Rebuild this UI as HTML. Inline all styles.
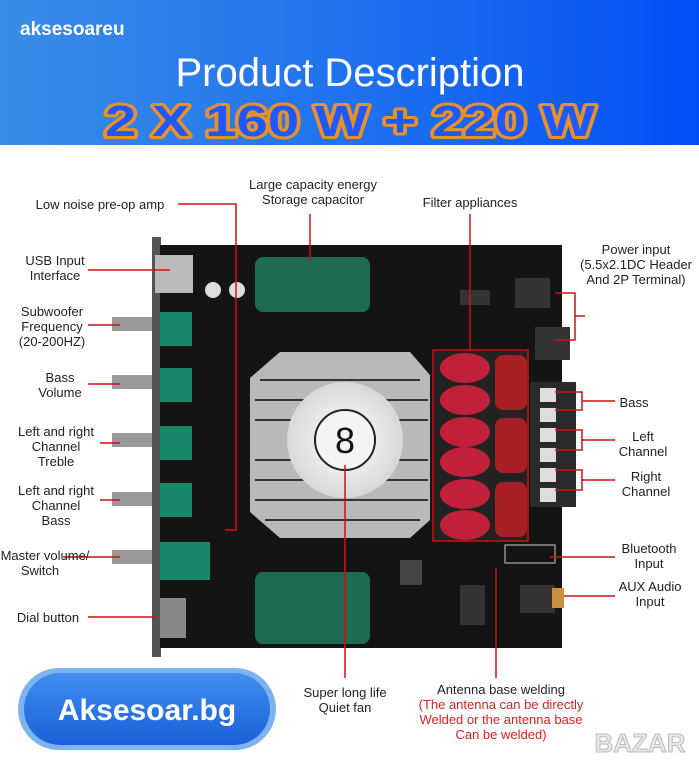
<!DOCTYPE html>
<html><head><meta charset="utf-8"><style>
body{margin:0;width:699px;height:768px;overflow:hidden;background:#fff;font-family:"Liberation Sans","DejaVu Sans",sans-serif}
</style></head><body>
<svg width="699" height="768" viewBox="0 0 699 768" xmlns="http://www.w3.org/2000/svg" font-family="Liberation Sans, DejaVu Sans, sans-serif">
<defs>
<linearGradient id="hd" x1="0" x2="1"><stop offset="0" stop-color="#3a8de6"/><stop offset="0.6" stop-color="#1a6cf0"/><stop offset="1" stop-color="#0050f5"/></linearGradient>
<linearGradient id="bd" x1="0" x2="0" y1="0" y2="1"><stop offset="0" stop-color="#3f8ff0"/><stop offset="1" stop-color="#1a5fd8"/></linearGradient>
<radialGradient id="fan"><stop offset="0" stop-color="#fff"/><stop offset="1" stop-color="#d8d8d8"/></radialGradient>
</defs>
<rect x="0" y="0" width="699" height="145" fill="url(#hd)"/>
<text x="20" y="35" font-size="19" font-weight="bold" fill="#fff">aksesoareu</text>
<text x="350" y="86" font-size="40" fill="#fff" text-anchor="middle">Product Description</text>
<text x="350" y="136" font-size="44" font-weight="bold" fill="#e8902a" stroke="#e8902a" stroke-width="6" stroke-linejoin="round" text-anchor="middle" textLength="490" lengthAdjust="spacingAndGlyphs">2 X 160 W + 220 W</text>
<text x="350" y="136" font-size="44" font-weight="bold" fill="#1e58ff" text-anchor="middle" textLength="490" lengthAdjust="spacingAndGlyphs">2 X 160 W + 220 W</text>

<rect x="152" y="237" width="9" height="420" fill="#555"/>
<rect x="160" y="245" width="402" height="403" fill="#141414"/>
<rect x="155" y="255" width="38" height="38" fill="#bbb"/>
<g fill="#999"><rect x="112" y="317" width="40" height="14"/><rect x="112" y="375" width="40" height="14"/><rect x="112" y="433" width="40" height="14"/><rect x="112" y="492" width="40" height="14"/><rect x="112" y="550" width="40" height="14"/></g>
<g fill="#17896a"><rect x="160" y="312" width="32" height="34"/><rect x="160" y="368" width="32" height="34"/><rect x="160" y="426" width="32" height="34"/><rect x="160" y="483" width="32" height="34"/><rect x="160" y="542" width="50" height="38"/></g>
<rect x="160" y="598" width="26" height="40" fill="#888"/>
<rect x="255" y="257" width="115" height="55" rx="8" fill="#1f6b4f"/>
<rect x="255" y="572" width="115" height="72" rx="8" fill="#1f6b4f"/>
<circle cx="213" cy="290" r="8" fill="#ddd"/><circle cx="237" cy="290" r="8" fill="#ddd"/>
<polygon points="280,352 410,352 430,375 430,520 410,538 280,538 250,512 250,378" fill="#b9b9b9"/>
<g stroke="#333" stroke-width="2">
<line x1="260" y1="380" x2="420" y2="380"/><line x1="255" y1="400" x2="428" y2="400"/><line x1="255" y1="420" x2="428" y2="420"/><line x1="255" y1="460" x2="428" y2="460"/><line x1="255" y1="480" x2="428" y2="480"/><line x1="255" y1="500" x2="428" y2="500"/><line x1="265" y1="520" x2="420" y2="520"/>
</g>
<circle cx="345" cy="440" r="58" fill="url(#fan)"/>
<circle cx="345" cy="440" r="30" fill="#f4f4f4" stroke="#222" stroke-width="2"/>
<text x="345" y="453" font-size="36" text-anchor="middle" fill="#111">8</text>
<rect x="433" y="350" width="95" height="191" fill="#222"/>
<g fill="#c0203a"><ellipse cx="465" cy="368" rx="25" ry="15"/><ellipse cx="465" cy="400" rx="25" ry="15"/><ellipse cx="465" cy="432" rx="25" ry="15"/><ellipse cx="465" cy="462" rx="25" ry="15"/><ellipse cx="465" cy="494" rx="25" ry="15"/><ellipse cx="465" cy="525" rx="25" ry="15"/></g>
<g fill="#a82024"><rect x="495" y="355" width="32" height="55" rx="8"/><rect x="495" y="418" width="32" height="55" rx="8"/><rect x="495" y="482" width="32" height="55" rx="8"/></g>
<rect x="433" y="350" width="95" height="191" fill="none" stroke="#d01010" stroke-width="1.5"/>
<rect x="530" y="382" width="46" height="125" fill="#2a2a2a"/>
<g fill="#ddd"><rect x="540" y="388" width="16" height="14"/><rect x="540" y="408" width="16" height="14"/><rect x="540" y="428" width="16" height="14"/><rect x="540" y="448" width="16" height="14"/><rect x="540" y="468" width="16" height="14"/><rect x="540" y="488" width="16" height="14"/></g>
<rect x="515" y="278" width="35" height="30" fill="#333"/><rect x="535" y="327" width="35" height="33" fill="#333"/>
<rect x="460" y="290" width="30" height="15" fill="#333"/>
<rect x="505" y="545" width="50" height="18" fill="none" stroke="#ccc"/>
<rect x="520" y="585" width="35" height="28" fill="#333"/><rect x="552" y="588" width="12" height="20" fill="#c89040"/>
<rect x="460" y="585" width="25" height="40" fill="#333"/><rect x="400" y="560" width="22" height="25" fill="#444"/>

<g stroke="#d01010" stroke-width="1.5" fill="none">
<path d="M178 204H236V530H225"/><path d="M310 214V262"/><path d="M470 214V350"/>
<path d="M88 270H170"/><path d="M88 325H120"/><path d="M88 384H120"/><path d="M100 443H120"/><path d="M100 500H120"/><path d="M63 557H120"/><path d="M88 617H155"/>
<path d="M555 293H575V340H555M575 316H585"/><path d="M555 392H582V410H555M582 401H615"/><path d="M555 430H582V450H555M582 440H615"/><path d="M555 470H582V490H555M582 480H615"/>
<path d="M550 557H615"/><path d="M564 596H615"/>
<path d="M345 465V678"/><path d="M496 568V678"/>
</g>
<g font-size="13" fill="#222" text-anchor="middle">
<text x="100" y="209">Low noise pre-op amp</text>
<text x="313" y="189">Large capacity energy</text><text x="313" y="204">Storage capacitor</text>
<text x="470" y="207">Filter appliances</text>
<text x="636" y="254">Power input</text><text x="636" y="269">(5.5x2.1DC Header</text><text x="636" y="284">And 2P Terminal)</text>
<text x="55" y="265">USB Input</text><text x="55" y="280">Interface</text>
<text x="52" y="316">Subwoofer</text><text x="52" y="331">Frequency</text><text x="52" y="346">(20-200HZ)</text>
<text x="60" y="382">Bass</text><text x="60" y="397">Volume</text>
<text x="56" y="436">Left and right</text><text x="56" y="451">Channel</text><text x="56" y="466">Treble</text>
<text x="56" y="495">Left and right</text><text x="56" y="510">Channel</text><text x="56" y="525">Bass</text>
<text x="45" y="560">Master volume/</text><text x="40" y="575">Switch</text>
<text x="48" y="622">Dial button</text>
<text x="634" y="407">Bass</text>
<text x="643" y="441">Left</text><text x="643" y="456">Channel</text>
<text x="646" y="481">Right</text><text x="646" y="496">Channel</text>
<text x="649" y="553">Bluetooth</text><text x="649" y="568">Input</text>
<text x="650" y="591">AUX Audio</text><text x="650" y="606">Input</text>
<text x="345" y="697">Super long life</text><text x="345" y="712">Quiet fan</text>
<text x="501" y="694">Antenna base welding</text>
<g fill="#e02020"><text x="501" y="709">(The antenna can be directly</text><text x="501" y="724">Welded or the antenna base</text><text x="501" y="739">Can be welded)</text></g>
</g>
<rect x="18" y="668" width="258" height="82" rx="41" fill="#7fb3ee"/>
<rect x="24" y="673" width="246" height="72" rx="36" fill="url(#bd)"/>
<text x="147" y="720" font-size="30" font-weight="bold" fill="#fff" text-anchor="middle">Aksesoar.bg</text>
<text x="640" y="752" font-size="26" font-weight="bold" fill="#e8e8e8" stroke="#bbb" stroke-width="1" text-anchor="middle">BAZAR</text>
</svg>
</body></html>
